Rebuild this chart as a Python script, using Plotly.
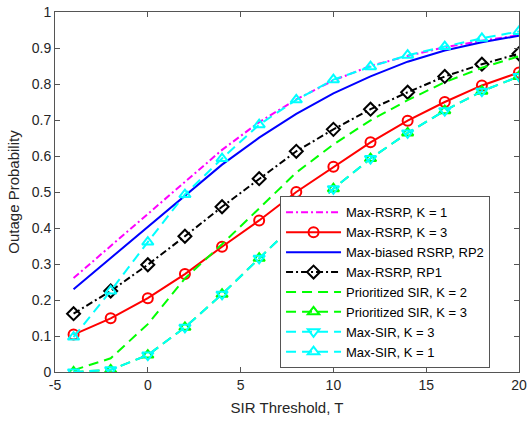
import plotly.graph_objects as go

x = [-4, -2, 0, 2, 4, 6, 8, 10, 12, 14, 16, 18, 20]

max_rsrp_k1 = [0.261, 0.350, 0.440, 0.530, 0.617, 0.694, 0.757, 0.810, 0.850, 0.878, 0.902, 0.920, 0.936]
max_rsrp_k3 = [0.104, 0.149, 0.205, 0.272, 0.348, 0.421, 0.500, 0.570, 0.638, 0.698, 0.750, 0.796, 0.832]
max_biased_rp2 = [0.230, 0.316, 0.402, 0.490, 0.576, 0.651, 0.717, 0.774, 0.821, 0.862, 0.893, 0.916, 0.934]
max_rsrp_rp1 = [0.162, 0.225, 0.298, 0.377, 0.459, 0.537, 0.613, 0.674, 0.730, 0.777, 0.821, 0.855, 0.884]
prio_sir_k2 = [0.005, 0.038, 0.133, 0.260, 0.355, 0.455, 0.554, 0.632, 0.699, 0.755, 0.805, 0.845, 0.877]
prio_sir_k3 = [0.000, 0.006, 0.047, 0.124, 0.216, 0.316, 0.415, 0.509, 0.593, 0.664, 0.726, 0.780, 0.821]
max_sir_k3 = [0.000, 0.006, 0.047, 0.124, 0.216, 0.316, 0.415, 0.509, 0.593, 0.664, 0.726, 0.780, 0.821]
max_sir_k1 = [0.097, 0.225, 0.361, 0.493, 0.593, 0.687, 0.756, 0.812, 0.848, 0.880, 0.904, 0.927, 0.946]

names = ["Max-RSRP, K = 1", "Max-RSRP, K = 3", "Max-biased RSRP, RP2", "Max-RSRP, RP1",
         "Prioritized SIR, K = 2", "Prioritized SIR, K = 3", "Max-SIR, K = 3", "Max-SIR, K = 1"]

x_tickvals = [-5, 0, 5, 10, 15, 20]
x_ticktext = ["-5", "0", "5", "10", "15", "20"]
y_tickvals = [0, 0.1, 0.2, 0.3, 0.4, 0.5, 0.6, 0.7, 0.8, 0.9, 1]
y_ticktext = ["0", "0.1", "0.2", "0.3", "0.4", "0.5", "0.6", "0.7", "0.8", "0.9", "1"]

DASH = "10px,6px"
DASHDOT = "7px,3px,2px,3px"

series = [
    (max_rsrp_k1, "#FF00FF", DASHDOT, None),
    (max_rsrp_k3, "#FF0000", "solid", "circle-open"),
    (max_biased_rp2, "#0000FF", "solid", None),
    (max_rsrp_rp1, "#000000", DASHDOT, "diamond-open"),
    (prio_sir_k2, "#00FF00", DASH, None),
    (prio_sir_k3, "#00FF00", DASH, "triangle-up-open"),
    (max_sir_k3, "#00FFFF", DASH, "triangle-down-open"),
    (max_sir_k1, "#00FFFF", DASH, "triangle-up-open"),
]

fig = go.Figure()
for (y, color, dash, sym), name in zip(series, names):
    kw = dict(x=x, y=y, name=name, line=dict(color=color, width=2, dash=dash))
    if sym:
        kw["mode"] = "lines+markers"
        kw["marker"] = dict(symbol=sym, size=10, color=color, line=dict(color=color, width=2))
    else:
        kw["mode"] = "lines"
    fig.add_trace(go.Scatter(**kw))

FONT = "Liberation Sans, Arial"
axis_common = dict(
    showline=True, linecolor="#555555", linewidth=1, mirror="ticks",
    ticks="inside", ticklen=5, tickcolor="#555555", tickwidth=1,
    showgrid=False, zeroline=False, ticklabeloverflow="allow",
    tickfont=dict(family=FONT, size=14, color="#262626"),
)

fig.update_xaxes(range=[-5, 20], tickvals=x_tickvals, ticktext=x_ticktext,
                 title=dict(text="SIR Threshold, T", standoff=10,
                            font=dict(family=FONT, size=15, color="#262626")),
                 **axis_common)
fig.update_yaxes(range=[0, 1], tickvals=y_tickvals, ticktext=y_ticktext,
                 title=dict(text="Outage Probability", standoff=8,
                            font=dict(family=FONT, size=15, color="#262626")),
                 **axis_common)

fig.update_layout(
    width=531, height=425,
    margin=dict(l=55, r=8, t=4, b=53),
    plot_bgcolor="white", paper_bgcolor="white",
    legend=dict(x=0.485, y=0.01, xanchor="left", yanchor="bottom",
                bgcolor="white", bordercolor="#555555", borderwidth=1,
                itemwidth=55, tracegroupgap=0,
                font=dict(family=FONT, size=13, color="#000000")),
)

fig.write_html("out.html")
